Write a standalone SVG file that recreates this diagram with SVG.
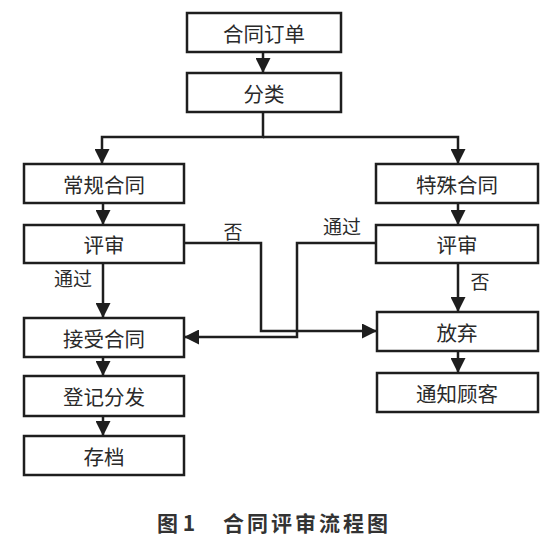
<svg xmlns="http://www.w3.org/2000/svg" width="554" height="544" viewBox="0 0 554 544">
<style>
.box{fill:#fff;stroke:#1e1e1e;stroke-width:2.5}
.t{font-family:"Noto Sans CJK SC","Noto Sans",sans-serif;font-size:20.5px;fill:#2a2a2a;text-anchor:middle;dominant-baseline:central}
.lbl{font-family:"Noto Sans CJK SC","Noto Sans",sans-serif;font-size:19px;fill:#2a2a2a;text-anchor:middle;dominant-baseline:central}
.ln{fill:none;stroke:#1e1e1e;stroke-width:2.5}
.cap{font-family:"Noto Sans CJK SC","Noto Sans",sans-serif;font-size:21px;font-weight:bold;fill:#333;dominant-baseline:central}
</style>
<defs>
<marker id="ah" viewBox="0 0 10 10" refX="10" refY="5" markerWidth="6" markerHeight="6" markerUnits="strokeWidth" orient="auto">
<path d="M0,0 L10,5 L0,10 Z" fill="#1e1e1e"/>
</marker>
</defs>
<rect width="554" height="544" fill="#fff"/>
<g id="connectors">
<path class="ln" d="M263,52 V73" marker-end="url(#ah)"/>
<path class="ln" d="M263,112 V137 H102 V164" marker-end="url(#ah)"/>
<path class="ln" d="M263,137 H458 V164" marker-end="url(#ah)"/>
<path class="ln" d="M103,203 V225" marker-end="url(#ah)"/>
<path class="ln" d="M458,203 V225" marker-end="url(#ah)"/>
<path class="ln" d="M103,263 V318" marker-end="url(#ah)"/>
<path class="ln" d="M184,243 H261 V331 H377" marker-end="url(#ah)"/>
<path class="ln" d="M376,243 H297 V337 H184" marker-end="url(#ah)"/>
<path class="ln" d="M458,263 V312" marker-end="url(#ah)"/>
<path class="ln" d="M103,357 V376" marker-end="url(#ah)"/>
<path class="ln" d="M103,416 V436" marker-end="url(#ah)"/>
<path class="ln" d="M458,351 V373" marker-end="url(#ah)"/>
<text class="lbl" x="233" y="230">否</text>
<text class="lbl" x="73" y="277">通过</text>
<text class="lbl" x="342" y="225">通过</text>
<text class="lbl" x="480" y="280">否</text>
</g>
<g id="n1"><rect class="box" x="187" y="13" width="154" height="39"/><text class="t" x="264" y="32.5">合同订单</text></g>
<g id="n2"><rect class="box" x="187" y="73" width="154" height="39"/><text class="t" x="264" y="92.5">分类</text></g>
<g id="n3"><rect class="box" x="24" y="164" width="160" height="39"/><text class="t" x="104" y="183.5">常规合同</text></g>
<g id="n4"><rect class="box" x="376" y="164" width="162" height="39"/><text class="t" x="457" y="183.5">特殊合同</text></g>
<g id="n5"><rect class="box" x="24" y="225" width="160" height="38"/><text class="t" x="104" y="244">评审</text></g>
<g id="n6"><rect class="box" x="376" y="225" width="162" height="38"/><text class="t" x="457" y="244">评审</text></g>
<g id="n7"><rect class="box" x="24" y="318" width="160" height="39"/><text class="t" x="104" y="337.5">接受合同</text></g>
<g id="n8"><rect class="box" x="377" y="312" width="161" height="39"/><text class="t" x="457" y="331.5">放弃</text></g>
<g id="n9"><rect class="box" x="24" y="376" width="160" height="40"/><text class="t" x="104" y="396">登记分发</text></g>
<g id="n10"><rect class="box" x="377" y="373" width="161" height="39"/><text class="t" x="457" y="392.5">通知顾客</text></g>
<g id="n11"><rect class="box" x="24" y="436" width="160" height="39"/><text class="t" x="104" y="455.5">存档</text></g>
<text class="cap" x="157" y="522">图 1</text>
<text class="cap" x="223" y="522" letter-spacing="3">合同评审流程图</text>
</svg>
